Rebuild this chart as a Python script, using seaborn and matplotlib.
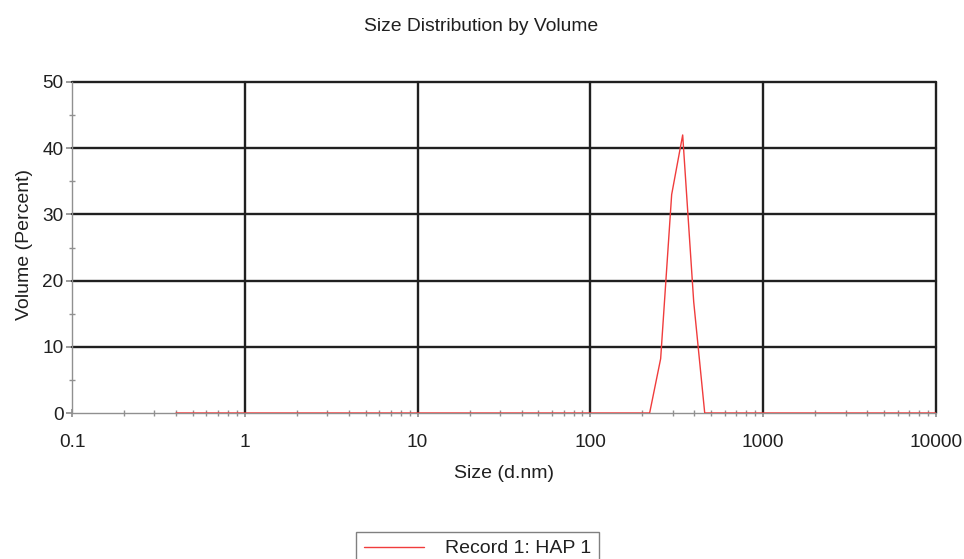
import matplotlib
matplotlib.use("Agg")
import matplotlib.pyplot as plt
import seaborn as sns
import numpy as np
import pandas as pd
from matplotlib.ticker import LogLocator, FixedLocator, NullFormatter

sns.set_theme(style="white")
plt.rcParams['font.family'] = ['Liberation Sans', 'DejaVu Sans']

# Size classes (d.nm) and volume (%)
sizes = [0.4, 0.4632, 0.5365, 0.6213, 0.7195, 0.8332, 0.9649, 1.117, 1.294, 1.499,
         1.736, 2.010, 2.328, 2.696, 3.122, 3.615, 4.187, 4.849, 5.615, 6.503,
         7.531, 8.721, 10.10, 11.70, 13.54, 15.69, 18.17, 21.04, 24.36, 28.21,
         32.67, 37.84, 43.82, 50.75, 58.77, 68.06, 78.82, 91.28, 105.7, 122.4,
         141.8, 164.2, 190.1, 220.2, 255.0, 295.3, 342.0, 396.1, 458.7, 531.2,
         615.1, 712.4, 825.0, 955.4, 1106, 1281, 1484, 1718, 1990, 2305,
         2669, 3091, 3580, 4145, 4801, 5560, 6439, 7456, 8635, 10000]
peak_sizes = [255.0, 295.3, 342.0, 396.1]
peak_values = [8.2, 33.0, 42.0, 16.8]
volume = [peak_values[peak_sizes.index(s)] if s in peak_sizes else 0.0 for s in sizes]

xticks = [0.1, 1, 10, 100, 1000, 10000]
xticklabels = ["0.1", "1", "10", "100", "1000", "10000"]
yticks = [0, 10, 20, 30, 40, 50]

df = pd.DataFrame({"Size": sizes, "Volume": volume})

fig = plt.figure(figsize=(9.64, 5.59), dpi=100)
ax = fig.add_axes([72/964, 1-413/559, (936-72)/964, (413-82)/559])

sns.lineplot(data=df, x="Size", y="Volume", ax=ax, color="#f03c3c", linewidth=1.0,
             label="Record 1: HAP 1", legend=False, zorder=3)

ax.set_xscale("log")
ax.set_xlim(0.1, 10000)
ax.set_ylim(0, 50)

# grid lines in black
for xv in xticks[1:]:
    ax.plot([xv, xv], [0, 50], color="#202020", lw=1.7, zorder=1, clip_on=False)
for yv in yticks[1:]:
    ax.plot([0.1, 10000], [yv, yv], color="#202020", lw=1.7, zorder=1, clip_on=False)

for s in ["top", "right"]:
    ax.spines[s].set_visible(False)
ax.spines["left"].set_color("#909090")
ax.spines["bottom"].set_color("#909090")
ax.spines["left"].set_linewidth(1.0)
ax.spines["bottom"].set_linewidth(1.0)

ax.set_xticks(xticks)
ax.set_xticklabels(xticklabels)
ax.xaxis.set_minor_locator(LogLocator(base=10, subs=np.arange(2, 10)))
ax.xaxis.set_minor_formatter(NullFormatter())
ax.set_yticks(yticks)
ax.yaxis.set_minor_locator(FixedLocator([5, 15, 25, 35, 45]))

ax.tick_params(axis="x", which="major", direction="inout", length=6,
               labelsize=13.7, pad=12, bottom=True)
ax.tick_params(axis="x", which="minor", direction="inout", length=5, bottom=True)
ax.tick_params(axis="y", which="major", direction="out", length=4,
               labelsize=13.7, pad=2, left=True)
ax.tick_params(axis="y", which="minor", direction="inout", length=5, left=True)
ax.tick_params(axis="both", which="both", color="#909090", labelcolor="#202020")

ax.set_xlabel("Size (d.nm)", fontsize=14, color="#202020")
ax.xaxis.set_label_coords(0.5, (413-465)/331)
ax.set_ylabel("Volume (Percent)", fontsize=14, color="#202020")
ax.yaxis.set_label_coords((33-72)/864, (413-245)/331)

fig.text(481/964, 1-31/559, "Size Distribution by Volume", ha="center", va="baseline",
         fontsize=13.9, color="#202020")

handles, labels = ax.get_legend_handles_labels()
leg = fig.legend(handles, labels, loc="upper left", bbox_to_anchor=(356/964, 1-532/559),
                 frameon=True, fancybox=False, edgecolor="#606060", fontsize=14,
                 handlelength=3.1, handletextpad=1.1, borderpad=0.4, borderaxespad=0,
                 labelcolor="#202020")
leg.get_frame().set_linewidth(1.0)

fig.savefig("out.png", dpi=100)
